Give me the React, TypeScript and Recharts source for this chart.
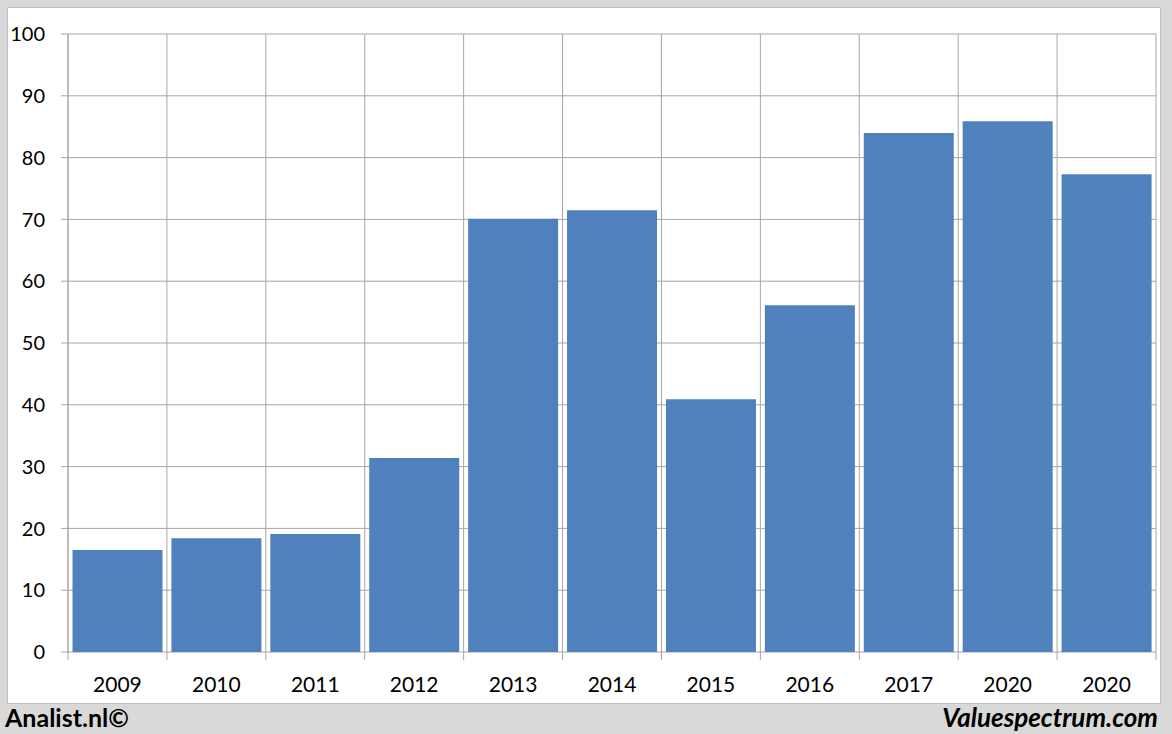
import React from 'react';
import { BarChart, Bar, XAxis, YAxis, CartesianGrid } from 'recharts';

const years = ['2009', '2010', '2011', '2012', '2013', '2014', '2015', '2016', '2017', '2020', '2020'];
const values = [16.5, 18.4, 19.1, 31.4, 70.1, 71.5, 40.9, 56.1, 84.0, 85.9, 77.3];
const yTicks = [0, 10, 20, 30, 40, 50, 60, 70, 80, 90, 100];
const gridTicks = [0, 1, 2, 3, 4, 5, 6, 7, 8, 9, 10, 11];

const data = years.map((y, i) => ({ key: 'c' + i, year: y, value: values[i] }));

const font = 'Lato, "Open Sans", sans-serif';
const gridColor = '#a6a6a6';

function YearTick(props: any) {
  const { x, y, payload, index } = props;
  const half = payload && payload.offset ? payload.offset : 1088 / years.length / 2;
  return (
    <g>
      <line x1={x - half} x2={x - half} y1={y} y2={y + 8} stroke={gridColor} />
      {index === years.length - 1 && (
        <line x1={x + half} x2={x + half} y1={y} y2={y + 8} stroke={gridColor} />
      )}
      <text x={x} y={y + 40} textAnchor="middle" fill="#000" fontSize={21} fontFamily={font}>
        {years[index]}
      </text>
    </g>
  );
}

export default function App() {
  return (
    <div style={{ position: 'absolute', left: 0, top: 0, width: 1172, height: 734, background: '#d9d9d9', fontFamily: font }}>
      <div style={{ position: 'absolute', left: 7, top: 7, width: 1152, height: 695, background: '#fff', border: '1px solid #bfbfbf' }} />
      <div style={{ position: 'absolute', left: 0, top: 0 }}>
        <BarChart
          width={1172}
          height={734}
          data={data}
          margin={{ top: 34, right: 16, left: 8, bottom: 32 }}
          barCategoryGap={4.5}
        >
          <CartesianGrid
            stroke={gridColor}
            strokeWidth={1}
            verticalCoordinatesGenerator={({ offset }: any) =>
              gridTicks.map((t) => offset.left + (t * offset.width) / years.length)
            }
          />
          <XAxis
            dataKey="key"
            tickLine={false}
            axisLine={false}
            tickSize={0}
            tickMargin={0}
            height={50}
            tick={<YearTick />}
            interval={0}
          />
          <YAxis
            domain={[0, 100]}
            ticks={yTicks}
            width={60}
            tickSize={7}
            tickMargin={16}
            tickLine={{ stroke: gridColor }}
            axisLine={{ stroke: gridColor }}
            tick={{ fill: '#000', fontSize: 20, fontFamily: font }}
          />
          <Bar dataKey="value" fill="#4f81bd" isAnimationActive={false} />
        </BarChart>
      </div>
      <div style={{ position: 'absolute', left: 5, top: 703, fontWeight: 700, fontSize: 25, lineHeight: '28px', color: '#000' }}>
        Analist.nl©
      </div>
      <div style={{ position: 'absolute', right: 14, top: 703, fontWeight: 700, fontStyle: 'italic', fontSize: 26, lineHeight: '28px', color: '#000' }}>
        Valuespectrum.com
      </div>
    </div>
  );
}
